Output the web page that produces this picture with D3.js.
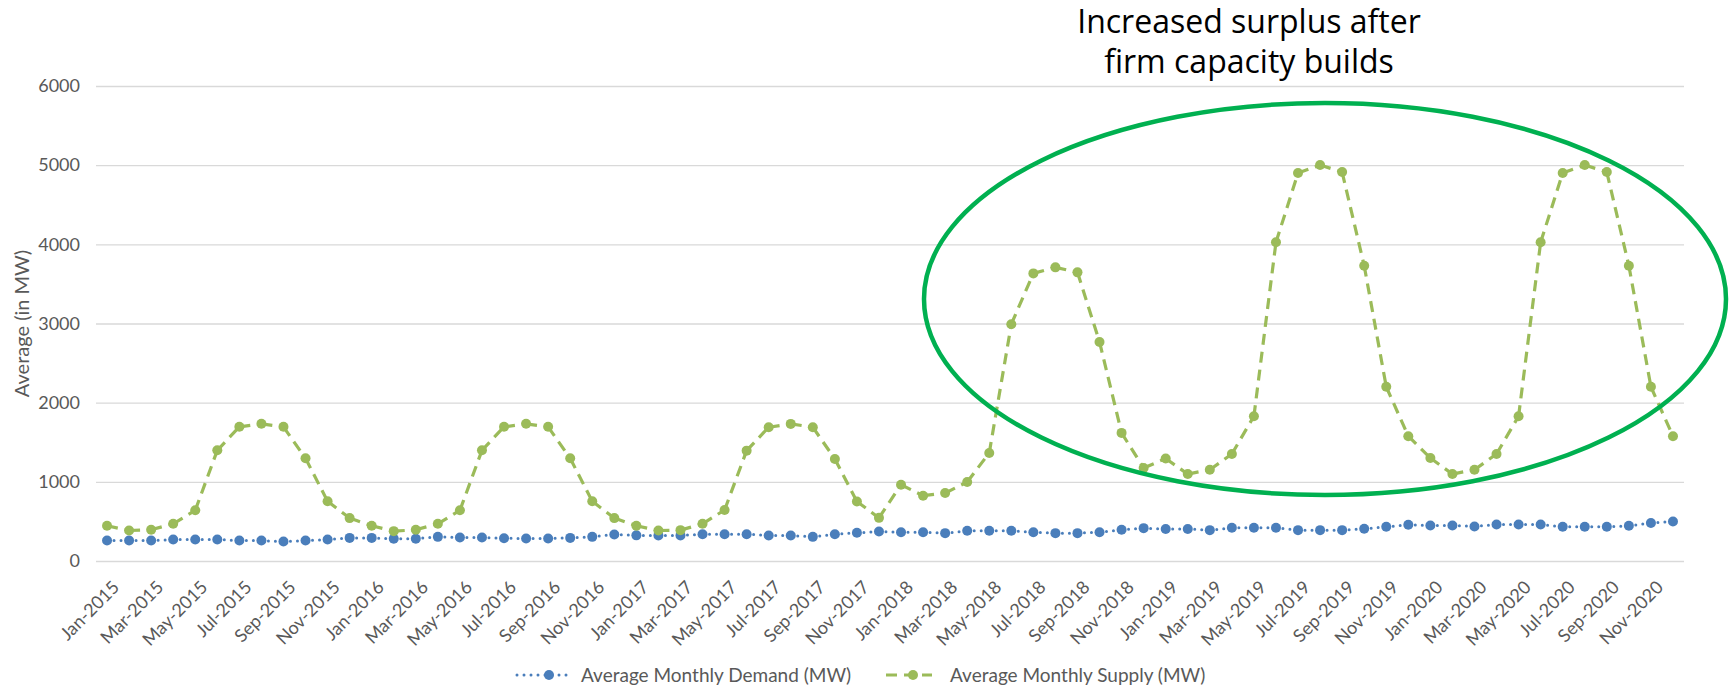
<!DOCTYPE html>
<html>
<head>
<meta charset="utf-8">
<script src="https://cdn.jsdelivr.net/npm/d3@7"></script>
<style>
  html, body { margin: 0; padding: 0; background: #fff; }
  svg { display: block; font-family: Lato, "Open Sans", sans-serif; }
</style>
</head>
<body>
<svg id="chart" width="1732" height="687"></svg>
<script>
const monthNames = ["Jan","Feb","Mar","Apr","May","Jun","Jul","Aug","Sep","Oct","Nov","Dec"];
const years = [2015, 2016, 2017, 2018, 2019, 2020];

// average monthly demand (MW), Jan-2015 .. Dec-2020
const demand = [
  258, 258, 258, 271, 271, 271, 258, 258, 246, 258, 271, 292,
  292, 282, 282, 305, 297, 297, 288, 284, 284, 292, 305, 335,
  324, 322, 322, 339, 339, 339, 322, 322, 305, 339, 356, 373,
  364, 364, 352, 381, 381, 381, 364, 352, 352, 364, 394, 415,
  405, 405, 390, 419, 419, 419, 390, 390, 390, 407, 432, 458,
  449, 449, 436, 462, 462, 462, 432, 432, 432, 445, 479, 500
];

// average monthly supply (MW)
const supply = [
  445, 385, 394, 470, 640, 1398, 1695, 1733, 1695, 1297, 754, 542,
  445, 377, 394, 470, 640, 1398, 1695, 1733, 1695, 1297, 754, 542,
  445, 385, 390, 470, 644, 1394, 1690, 1732, 1690, 1289, 752, 545,
  963, 825, 858, 998, 1365, 2991, 3633, 3709, 3646, 2767, 1618, 1174,
  1295, 1098, 1153, 1352, 1829, 4026, 4900, 5002, 4913, 3730, 2201, 1576,
  1301, 1098, 1153, 1352, 1829, 4026, 4900, 5002, 4913, 3730, 2201, 1576
];

const yTicks = [0, 1000, 2000, 3000, 4000, 5000, 6000];
const seriesNames = ["Average Monthly Demand (MW)", "Average Monthly Supply (MW)"];
const noteLines = ["Increased surplus after", "firm capacity builds"];

const months = [];
years.forEach(y => monthNames.forEach(m => months.push(m + "-" + y)));

const blue = "#4a7ebb";
const green = "#9bbb59";
const gridColor = "#d9d9d9";
const labelColor = "#595959";
const font = "Lato, 'Open Sans', sans-serif";

const svg = d3.select("#chart");
const plotLeft = 96, plotRight = 1684, plotTop = 86, plotBottom = 561;

const x = d3.scaleBand().domain(months).range([plotLeft, plotRight]);
const y = d3.scaleLinear().domain([0, 6000]).range([plotBottom, plotTop]);
const cx = d => x(d) + x.bandwidth() / 2;

// y axis + gridlines
const yAxis = svg.append("g")
    .attr("transform", `translate(${plotLeft},0)`)
    .call(d3.axisLeft(y).tickValues(yTicks).tickFormat(d3.format("d"))
        .tickSize(-(plotRight - plotLeft)).tickPadding(16));
yAxis.attr("font-family", font);
yAxis.select(".domain").remove();
yAxis.selectAll(".tick line").attr("stroke", gridColor).attr("stroke-width", 1.3);
yAxis.selectAll(".tick text")
    .attr("fill", labelColor)
    .style("font-size", "18px");

// x axis labels
const xAxis = svg.append("g")
    .attr("transform", `translate(0,${plotBottom})`)
    .call(d3.axisBottom(x).tickValues(months.filter((d, i) => i % 2 === 0)).tickSize(0).tickPadding(0));
xAxis.attr("font-family", font);
xAxis.select(".domain").remove();
xAxis.selectAll(".tick text")
    .attr("fill", labelColor)
    .style("font-size", "18px")
    .attr("text-anchor", "end")
    .attr("y", 0)
    .attr("dy", "0.35em")
    .attr("transform", "translate(9,23) rotate(-45)");

// y axis title
svg.append("text")
    .attr("transform", `translate(22,${(plotTop + plotBottom) / 2}) rotate(-90)`)
    .attr("text-anchor", "middle")
    .attr("dy", "0.35em")
    .attr("fill", labelColor)
    .style("font-size", "20px")
    .text("Average (in MW)");

// draw each segment on its own so the dash pattern restarts at every marker
function drawSeries(values, color, dash, width, cap) {
  const g = svg.append("g");
  const pts = values.map((v, i) => [cx(months[i]), y(v)]);
  const line = d3.line();
  for (let i = 0; i < pts.length - 1; i++) {
    g.append("path")
        .attr("d", line([pts[i], pts[i + 1]]))
        .attr("fill", "none")
        .attr("stroke", color)
        .attr("stroke-width", width)
        .attr("stroke-dasharray", dash)
        .attr("stroke-linecap", cap);
  }
  g.selectAll("circle")
      .data(values)
      .enter().append("circle")
      .attr("cx", (d, i) => cx(months[i]))
      .attr("cy", d => y(d))
      .attr("r", 5)
      .attr("fill", color);
}

drawSeries(demand, blue, "0 7", 3, "round");
drawSeries(supply, green, "11 7", 3.2, "butt");

// annotation
svg.append("ellipse")
    .attr("cx", 1325)
    .attr("cy", 299)
    .attr("rx", 401)
    .attr("ry", 196)
    .attr("fill", "none")
    .attr("stroke", "#00b050")
    .attr("stroke-width", 4.5);

svg.append("g").selectAll("text")
    .data(noteLines)
    .enter().append("text")
    .attr("x", 1249)
    .attr("y", (d, i) => 33 + i * 40)
    .attr("text-anchor", "middle")
    .attr("fill", "#000")
    .style("font-family", "'Open Sans', sans-serif")
    .style("font-size", "32px")
    .text(d => d);

// legend
const legend = svg.append("g").attr("transform", "translate(0,675)");
const legendItems = [
  { name: seriesNames[0], color: blue, dash: "0 7", width: 3, cap: "round", x1: 517, x2: 570, m: 549, tx: 581 },
  { name: seriesNames[1], color: green, dash: "11 7", width: 3.2, cap: "butt", x1: 886, x2: 932, m: 913, tx: 950 }
];
legendItems.forEach(it => {
  legend.append("line")
      .attr("x1", it.x1).attr("x2", it.x2)
      .attr("y1", 0).attr("y2", 0)
      .attr("stroke", it.color)
      .attr("stroke-width", it.width)
      .attr("stroke-dasharray", it.dash)
      .attr("stroke-linecap", it.cap);
  legend.append("circle").attr("cx", it.m).attr("cy", 0).attr("r", 5).attr("fill", it.color);
  legend.append("text")
      .attr("x", it.tx)
      .attr("y", 0)
      .attr("dy", "0.35em")
      .attr("fill", labelColor)
      .style("font-size", "19px")
      .text(it.name);
});
</script>
</body>
</html>
